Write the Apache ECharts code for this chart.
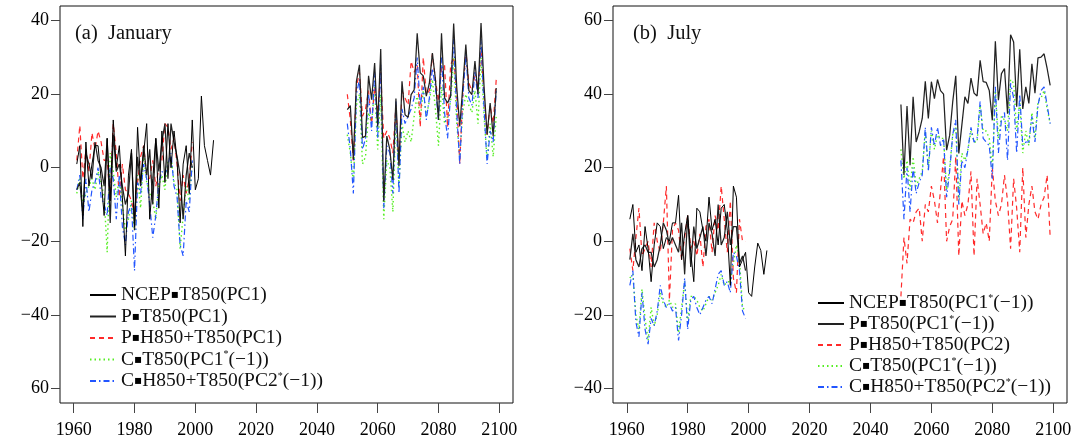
<!DOCTYPE html>
<html>
<head>
<meta charset="utf-8">
<script src="https://cdn.jsdelivr.net/npm/echarts@6/dist/echarts.min.js"></script>
<style>
  html, body { margin: 0; padding: 0; background: #fff; }
  #chart { width: 1075px; height: 443px; }
</style>
</head>
<body>
<div id="chart"></div>
<script>
// ---- Tick labels ----
const xTicks = [1960, 1980, 2000, 2020, 2040, 2060, 2080, 2100];
const janYTicks = [-60, -40, -20, 0, 20, 40];
const janYLabels = ['60', '\u221240', '\u221220', '0', '20', '40'];
const julYTicks = [-40, -20, 0, 20, 40, 60];
const julYLabels = ['\u221240', '\u221220', '0', '20', '40', '60'];

// ---- (a) January ----
// NCEP reanalysis, 1961-2006
const janNcep = [1, 6, -16, 7, -5, 1, 6, 6, -3, -13, 8, -9, 13, 0, 6, -8, -24, -2, 5, -16,
  11, -4, 4, 12, -14, -3, 8, -11, 10, -4, 12, 0, 10, 2, -15, 1, 6, -7, 13, -6,
  -3, 19.5, 6, 2, -2, 7.5];
// model runs: 1961-1999 and 2050-2099
const janPHist = [-6, -4, -13, 4, 1, -3, 7, 2, 0, -5, 8, -15, 9, -1, 1, -5, -10, -7, 4, -17,
  3, -5, 6, -2, 5, -10, 8, -1, 7, 12, -3, 12, 7, 3, -2, -14, -2, 4, 0];
const janPFut = [15.8, 16.9, 2.2, 23.5, 28, 8.2, 8.6, 25, 18.5, 28.5, 11.2, 32.3, -9.2, 8.6, 4.9,
  -3.3, 18.8, 0.4, 23.5, 14.4, 13.7, 19.9, 21.2, 36.6, 25.8, 25, 19.5, 23, 31.2, 24,
  13, 36.6, 19, 17.6, 19.5, 39.2, 22, 11.2, 22, 33.5, 21, 19.9, 29, 20, 39.4, 22, 9, 17.6, 8.6, 21.7];
const janPHHist = [2, 11.5, -3, 5, -1, 9.5, 5, 10, 7, 2, 2, -9, 12, 4, -8, 1, -6, -7, -9, -13,
  -4, 3, 6, -2, -3, 2, -5, 0, 2, 12, 11, 5, 8, 1, -9, -2, -7, -3, 7];
const janPHFut = [20, 13, 2, 22, 26, 14, 16, 21, 12, 22, 15, 26, 8, 10, 8, 4, 17, 1, 21, 19,
  17, 29, 26, 28, 11, 30, 20, 21, 31, 24, 18, 27, 28, 11, 28, 30, 20, 1, 20, 32,
  23, 21, 25, 22, 32, 20, 9, 17, 12, 24];
const janCHist = [-7, -3, -10, -7, -5, -3, -6, -1, -4, -8, -23, 4, -1, -8, -3, -10, -17, -14, -9, -17,
  -2, -11, 4, -4, -7, -9, -14, -5, -2, -6, 2, 3, -4, -6, -22, -13, -5, -9, 1];
const janCFut = [9, 4, -4, 17, 20, 1, 3, 15, 12, 22, 5, 20, -14, 2, 0, -12, 15, -5, 12, 7,
  10, 7, 14, 20, 13, 21, 14, 18, 24, 16, 6, 22, 12, 14, 18, 30, 12, 3, 15, 20,
  17, 15, 21, 12, 30, 14, 2, 12, 3, 14];
const janCHHist = [-6, -2, -14, -3, -12, -6, -4, 0, -8, -10, -13, 0, -3, -14, -2, -16, -21, -12, -10, -28,
  -4, -7, 1, -3, -10, -19, -13, -4, -1, -2, 1, 4, -5, -8, -21, -24, -9, -12, 2];
const janCHFut = [12, 5, -7, 20, 24, 5, 8, 20, 10, 26, 8, 28, -11, 6, 4, -7, 18, -7, 16, 12,
  14, 16, 19, 30, 17, 22, 13, 19, 27, 22, 13, 30, 15, 8, 20, 35, 15, 1, 19, 31,
  19, 17, 26, 19, 35, 16, 1, 10, 7, 21];

// ---- (b) July ----
const julNcep = [6, 10, -3, -1, -8, 4, -2, -11, -1, 5, 4, -2, 1, 0, 5, 5, 12.5, -5, 2, 7,
  -3, -11, 9, 8, 3, 0, 12, 3, 6, -1, 9, 10, 3, -12, 15, 12, -7, -5, -3, -14,
  -15, -7, -0.5, -2.5, -9, -2.5];
const julPHist = [-5, 2, -5, -7, -2, -1, -3, -3, -7, -5, -1, 5, 3, -1, 1, -1, -3, 5, -9, 7,
  -7, 4, -2, 1, 4, -4, 5, 2, -4, 10, -1, 1, 8, -1, 4, 4, -6, -4, -8];
const julPFut = [37.2, 18, 36.8, 20.7, 39.3, 27, 29.8, 33.4, 43.5, 33.4, 43.4, 38.8, 44, 41, 40,
  24.8, 28.8, 37.9, 45, 23.9, 31.6, 39.3, 37.5, 44.4, 40.3, 39.5, 49.2, 43.4, 43.2, 41,
  32.9, 54.4, 38.4, 45.6, 47, 34.7, 56.2, 54.2, 36.6, 52.2, 36, 42, 37.5, 48.3, 40.3,
  49.9, 50.1, 51, 47, 42.4];
const julPHHist = [-2, -8, 1, 9, -4, -2, 0, -7, 5, 0, -3, 5, 15, -16, 3, 5, 3, -5, 1, 7,
  -2, 0, -4, 2, -7, 4, 6, -3, 7, 3, 15, 6, -3, 11, -10, -14, 6, 0, 0];
const julPHFut = [-15, 1, -6, 6, 5, 8, 9, 0, 10, 8, 15, 11, 5, 14, 23, 0, 4, 6, 23, -4,
  11, 7, 10, 19, -4, 17, 10, 2, 5, 0, 20, 11, 7, 10, 18, 11, -2, 17, 9, -3,
  20, 1, 10, 15, 8, 6, 10, 12, 18, 1];
const julCHist = [-10, -9, -20, -24, -13, -21, -27, -18, -23, -20, -14, -17, -18, -16, -18, -17, -25, -18, -11, -22,
  -15, -15, -16, -18, -19, -17, -15, -16, -14, -12, -9, -12, -11, -11, -6, -1, -5, -18, -19];
const julCFut = [25, 17, 22, 14, 23, 15, 17, 19, 30, 20, 30, 25, 29, 28, 28, 14, 20, 29, 31, 11,
  24, 22, 25, 30, 27, 27, 37, 30, 30, 28, 20, 41, 28, 34, 33, 30, 44, 43, 30, 38,
  24, 30, 26, 35, 28, 38, 39, 41, 36, 32];
const julCHHist = [-12, -8, -22, -26, -14, -24, -28, -21, -23, -19, -12, -16, -18, -17, -19, -18, -27, -20, -10, -24,
  -16, -15, -18, -20, -18, -16, -15, -17, -13, -9, -8, -12, -11, -14, -3, -4, -8, -19, -21];
const julCHFut = [22, 6, 20, 8, 20, 13, 16, 18, 31, 19, 31, 26, 31, 26, 28, 12, 19, 29, 33, 10,
  22, 20, 25, 31, 27, 28, 38, 28, 27, 26, 17, 42, 24, 33, 35, 22, 43, 39, 24, 40,
  26, 27, 27, 34, 27, 37, 41, 42, 37, 32];

// ---- Legend names ----
const janNames = ['NCEP-T850(PC1)', 'P-T850(PC1)', 'P-H850+T850(PC1)',
  'C-T850(PC1*(\u22121))', 'C-H850+T850(PC2*(\u22121))'];
const julNames = ['NCEP-T850(PC1*(\u22121))', 'P-T850(PC1*(\u22121))', 'P-H850+T850(PC2)',
  'C-T850(PC1*(\u22121))', 'C-H850+T850(PC2*(\u22121))'];

const FONT = 'Liberation Serif';

// yearly points; historical and scenario runs separated by a gap
function span(start, values) { return values.map((v, i) => [start + i, v]); }
function runs(hist, fut) { return span(1961, hist).concat([[2025, '-']], span(2050, fut)); }

const lineStyles = [
  { color: '#000000', width: 1, type: 'solid' },
  { color: '#222222', width: 1.25, type: 'solid' },
  { color: '#ff2a2a', width: 1.2, type: [5, 4] },
  { color: '#55ee22', width: 1.4, type: [1.5, 3] },
  { color: '#2255ff', width: 1.2, type: [6, 3, 1.5, 3] }
];
const zOrder = [6, 5, 3, 2, 4];

function panelSeries(idx, names, datasets) {
  return datasets.map((d, k) => ({
    type: 'line',
    name: names[k],
    xAxisIndex: idx,
    yAxisIndex: idx,
    data: d,
    symbol: 'none',
    connectNulls: false,
    animation: false,
    z: zOrder[k],
    lineStyle: lineStyles[k],
    itemStyle: { color: lineStyles[k].color }
  }));
}

const grids = [
  { left: 60, top: 6, width: 453, height: 397 },
  { left: 613, top: 6, width: 454, height: 397 }
];

function xAxis(idx) {
  return {
    type: 'value', gridIndex: idx, min: 1955.48, max: 2104.52,
    axisLine: { show: false, onZero: false },
    splitLine: { show: false },
    axisTick: { show: true, length: 10, inside: false, customValues: xTicks,
      lineStyle: { color: '#444', width: 1 } },
    axisLabel: { customValues: xTicks, margin: 18, color: '#000',
      fontFamily: FONT, fontSize: 18, formatter: v => String(v) }
  };
}
function yAxis(idx, min, max, ticks, labels) {
  return {
    type: 'value', gridIndex: idx, min: min, max: max,
    axisLine: { show: false, onZero: false },
    splitLine: { show: false },
    axisTick: { show: true, length: 9, customValues: ticks,
      lineStyle: { color: '#444', width: 1 } },
    axisLabel: { customValues: ticks, margin: 11, color: '#000',
      fontFamily: FONT, fontSize: 18,
      formatter: v => labels[ticks.indexOf(v)] }
  };
}

function legendText(name) {
  return name.replace('-', '{sq|\u25aa}').replace('*', '{sup|*}');
}
function legend(names, left, top, gap) {
  return {
    data: names, orient: 'vertical', left: left, top: top, padding: 0,
    itemWidth: 26, itemHeight: 14, itemGap: gap, selectedMode: false,
    itemStyle: { opacity: 0 },
    formatter: legendText,
    textStyle: {
      fontFamily: FONT, fontSize: 19.5, color: '#111', lineHeight: 20,
      rich: {
        sq: { fontFamily: 'DejaVu Sans', fontSize: 12, color: '#000', lineHeight: 20 },
        sup: { fontFamily: FONT, fontSize: 10, verticalAlign: 'top', lineHeight: 20, color: '#111' }
      }
    }
  };
}

const chart = echarts.init(document.getElementById('chart'), null, { renderer: 'canvas' });
chart.setOption({
  backgroundColor: '#ffffff',
  animation: false,
  title: [
    { text: '(a)  January', left: 75, top: 23, padding: 0,
      textStyle: { fontFamily: FONT, fontSize: 20.5, fontWeight: 'normal', color: '#111' } },
    { text: '(b)  July', left: 633, top: 23, padding: 0,
      textStyle: { fontFamily: FONT, fontSize: 20.5, fontWeight: 'normal', color: '#111' } }
  ],
  grid: grids.map(g => Object.assign({ show: true, borderColor: '#111', borderWidth: 1,
    backgroundColor: 'transparent' }, g)),
  xAxis: [xAxis(0), xAxis(1)],
  yAxis: [yAxis(0, -64, 44, janYTicks, janYLabels), yAxis(1, -44, 64, julYTicks, julYLabels)],
  legend: [legend(janNames, 89, 285, 1.5), legend(julNames, 817, 293, 1)],
  series: [].concat(
    panelSeries(0, janNames, [
      span(1961, janNcep), runs(janPHist, janPFut), runs(janPHHist, janPHFut),
      runs(janCHist, janCFut), runs(janCHHist, janCHFut)
    ]),
    panelSeries(1, julNames, [
      span(1961, julNcep), runs(julPHist, julPFut), runs(julPHHist, julPHFut),
      runs(julCHist, julCFut), runs(julCHHist, julCHFut)
    ])
  )
});
</script>
</body>
</html>
